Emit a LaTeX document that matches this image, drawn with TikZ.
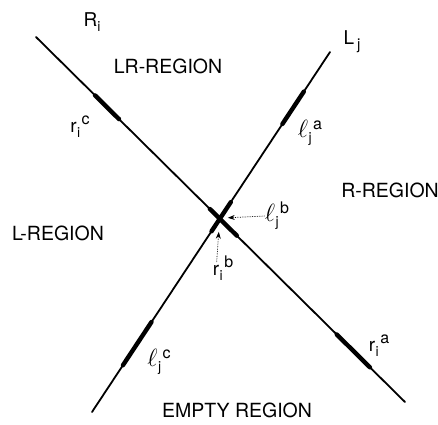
\documentclass[tikz,border=0pt]{standalone}
\usepackage{fontspec}
\setmainfont{TeX Gyre Heros}
\setsansfont{TeX Gyre Heros}
\usetikzlibrary{arrows.meta, calc, positioning}

% base, subindice y superindice separados
\newcommand{\segm}[3]{#1\kern0.5pt\raisebox{-5pt}{\fontsize{14}{14}\selectfont #2}\kern1.5pt\raisebox{8pt}{\fontsize{16}{16}\selectfont #3}}
\newcommand{\ele}{{\fontsize{24}{24}\selectfont$\ell$}}

\tikzset{
  recta/.style={line width=1.8pt, line cap=round},
  tramo/.style={line width=4.4pt, line cap=round},
  region/.style={font=\fontsize{19.5}{22}\selectfont, inner sep=0pt},
  etiq/.style={font=\fontsize{19}{21}\selectfont, inner sep=0pt},
  punteada/.style={densely dotted, line width=0.7pt, -{Stealth[length=7pt,width=5pt]}}
}

\begin{document}
\begin{tikzpicture}[x=1pt, y=-1pt]
  \useasboundingbox (0,0) rectangle (438,424);

  % Rectas R_i y L_j
  \coordinate (Ra) at (36,37);
  \coordinate (Rb) at (405,402);
  \coordinate (La) at (330,52);
  \coordinate (Lb) at (92,412);
  \draw[recta] (Ra) -- (Rb);
  \draw[recta] (La) -- (Lb);
  \coordinate (X) at (intersection of Ra--Rb and La--Lb);

  % Tramos gruesos
  \draw[tramo] ($(Ra)!0.16!(Rb)$) -- ($(Ra)!0.225!(Rb)$);
  \draw[tramo] ($(Ra)!0.815!(Rb)$) -- ($(Ra)!0.905!(Rb)$);
  \draw[tramo] ($(La)!0.11!(Lb)$) -- ($(La)!0.20!(Lb)$);
  \draw[tramo] ($(La)!0.75!(Lb)$) -- ($(La)!0.87!(Lb)$);
  \draw[tramo] ($(X)!20pt!(La)$) -- ($(X)!15pt!(Lb)$);
  \draw[tramo] ($(X)!14pt!(Ra)$) -- ($(X)!24pt!(Rb)$);

  % Nombres de las rectas
  \node[etiq] (Rlab) at (92,22) {R\raisebox{-5pt}{\fontsize{14}{14}\selectfont i}};
  \node[etiq] (Llab) at (352,42) {L\kern3pt\raisebox{-5pt}{\fontsize{15}{15}\selectfont j}};

  % Regiones
  \node[region] (lrreg) at (168,66) {LR-REGION};
  \node[region] (rreg) at (390,190) {R-REGION};
  \node[region] (lreg) at (58,233) {L-REGION};
  \node[region] (ereg) at (237,410) {EMPTY REGION};

  % Extremos de los tramos
  \node[etiq] (rc) at (80,127) {\segm{r}{i}{c}};
  \node[etiq] (ra) at (379,346) {\segm{r}{i}{a}};
  \node[etiq] (la) at (310,133) {\segm{\ele}{j}{a}};
  \node[etiq] (lc) at (159,362) {\segm{\ele}{j}{c}};
  \node[etiq] (lb) at (277,216) {\segm{\ele}{j}{b}};
  \node[etiq] (rb) at (223,268) {\segm{r}{i}{b}};

  % Flechas punteadas al cruce
  \coordinate (pb) at ($(X)+(8,-1)$);
  \coordinate (pr) at ($(X)+(-1,13)$);
  \draw[punteada] (lb.west) -- (pb);
  \draw[punteada] ($(rb.west)+(4,-6)$) -- (pr);
\end{tikzpicture}
\end{document}
